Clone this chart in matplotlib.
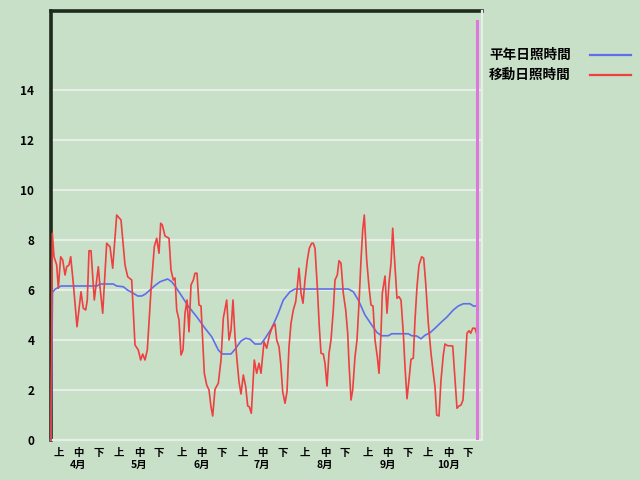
import matplotlib
matplotlib.use("Agg")
import matplotlib.pyplot as plt
from matplotlib.lines import Line2D

plt.rcParams['font.family'] = ['Noto Sans CJK JP', 'DejaVu Sans']

# ---- data (day index from Apr 1, value in hours) ----
normal_series = [
    (0, 0), (0.75, 5.9), (2, 6.03), (3.65, 6.1), (5, 6.16), (23, 6.16), (24.5, 6.24),
    (31.15, 6.24), (32.85, 6.16), (36.15, 6.13), (38.25, 6.0), (41.15, 5.87), (43.35, 5.76),
    (45.35, 5.76), (47.25, 5.84), (49.5, 6.0), (52, 6.18), (54.5, 6.33), (58.35, 6.44),
    (60.35, 6.33), (62, 6.16), (65.35, 5.76), (68.65, 5.35), (72.85, 4.93), (77, 4.47),
    (80.35, 4.13), (83.65, 3.6), (85.65, 3.44), (90, 3.44), (92, 3.63), (95, 3.96),
    (97.35, 4.07), (99.5, 4.03), (102, 3.84), (105, 3.84), (107.25, 4.09), (110.35, 4.47),
    (113.65, 5.07), (116.15, 5.6), (119.5, 5.93), (122, 6.04), (148.65, 6.04), (151.15, 5.93),
    (153.65, 5.6), (157, 5.0), (160.35, 4.6), (163, 4.3), (165.35, 4.17), (168.65, 4.17),
    (170.35, 4.25), (178.65, 4.25), (180.35, 4.17), (182.85, 4.16), (185, 4.05), (187, 4.19),
    (189.5, 4.29), (192, 4.47), (195.35, 4.73), (197.85, 4.91), (201.15, 5.2), (203.65, 5.36),
    (206.15, 5.45), (209.5, 5.45), (211.15, 5.36), (213.25, 5.36),
]

moving_series = [
    (0, 0), (0.65, 8.27), (1.5, 7.33), (2.85, 7.0), (3.65, 6.07), (4.85, 7.33), (5.85, 7.2),
    (7, 6.6), (7.85, 6.93), (9, 7.0), (9.85, 7.33), (11.15, 6.27), (13, 4.53), (15, 5.93),
    (16.15, 5.27), (17.35, 5.2), (18.15, 5.6), (19, 7.57), (20, 7.57), (21.65, 5.6),
    (23.65, 6.93), (24.5, 6.13), (25.85, 5.07), (27.85, 7.87), (29.5, 7.73), (30.85, 6.87),
    (32.85, 9.0), (35, 8.8), (37, 7.0), (38.35, 6.53), (40.35, 6.4), (42, 3.8), (43.65, 3.6),
    (44.85, 3.2), (45.85, 3.44), (47, 3.2), (48.15, 3.6), (50, 6.0), (51.65, 7.73),
    (52.85, 8.07), (54, 7.47), (54.85, 8.67), (55.65, 8.6), (57, 8.16), (59, 8.07), (60, 6.8),
    (61.15, 6.4), (62, 6.48), (62.85, 5.2), (64, 4.8), (65, 3.4), (66, 3.6), (67, 5.07),
    (68, 5.6), (69, 4.33), (70, 6.2), (71.15, 6.4), (72, 6.67), (73, 6.67), (74, 5.4),
    (75, 5.36), (76.65, 2.67), (77.85, 2.2), (79, 2.0), (80, 1.33), (80.85, 0.96), (82, 2.03),
    (83.65, 2.27), (85, 3.2), (86.15, 4.87), (87.85, 5.6), (89, 4.0), (90, 4.4), (91, 5.6),
    (92, 4.13), (93, 3.2), (94, 2.33), (95, 1.84), (96.15, 2.6), (97.35, 2.13), (98.35, 1.36),
    (99.15, 1.33), (100.15, 1.07), (101.65, 3.2), (102.85, 2.67), (104, 3.07), (105, 2.67),
    (106.5, 3.93), (107.85, 3.67), (109.25, 4.2), (110.65, 4.53), (112, 4.64), (112.85, 4.0),
    (114, 3.73), (114.85, 3.07), (115.85, 1.93), (117, 1.47), (118, 1.93), (119, 3.73),
    (120, 4.67), (121.15, 5.2), (122.35, 5.53), (123.15, 6.13), (124, 6.87), (125, 5.87),
    (126, 5.47), (127, 6.4), (128.15, 7.2), (129.15, 7.67), (130.35, 7.87), (131.15, 7.87),
    (132, 7.67), (133.15, 6.13), (134.15, 4.53), (135, 3.47), (136.15, 3.44), (137, 3.07),
    (138, 2.16), (139, 3.47), (140, 4.0), (141.15, 5.2), (142, 6.4), (143.15, 6.6),
    (144, 7.17), (145, 7.07), (146.15, 5.87), (147.35, 5.2), (148.35, 4.27), (149, 3.07),
    (150, 1.6), (150.85, 2.0), (152, 3.33), (153, 4.0), (154, 5.47), (155, 7.2), (155.85, 8.4),
    (156.65, 9.0), (157.85, 7.2), (159, 6.13), (160, 5.4), (161, 5.36), (162, 4.0),
    (163.15, 3.33), (164, 2.67), (165, 4.27), (165.65, 5.87), (167, 6.56), (168, 5.07),
    (169, 6.27), (170, 7.07), (170.85, 8.47), (172, 6.93), (173, 5.67), (174, 5.73), (175, 5.6),
    (176.15, 4.27), (177, 2.93), (178, 1.65), (179.15, 2.53), (180, 3.23), (181.15, 3.27),
    (182, 4.8), (183, 6.13), (184, 7.0), (185.35, 7.33), (186.35, 7.27), (187.35, 6.27),
    (188.65, 4.67), (190, 3.47), (191.15, 2.67), (192, 2.13), (192.85, 1.0), (194, 0.96),
    (195, 2.4), (196.15, 3.4), (197, 3.84), (198.35, 3.77), (199.5, 3.77), (200.85, 3.76),
    (202, 2.4), (203, 1.27), (204, 1.36), (205, 1.4), (206, 1.6), (207, 2.93), (208, 4.27),
    (209, 4.37), (209.85, 4.27), (210.85, 4.47), (212, 4.47), (212.65, 4.29),
]

today_day = 213
today_top = 16.76

month_labels = ['4月', '5月', '6月', '7月', '8月', '9月', '10月']
month_starts = [0, 30, 61, 91, 122, 153, 183]
dekad_labels = ['上', '中', '下']
dekad_offsets = [3.7, 13.7, 23.7]
y_ticks = [0, 2, 4, 6, 8, 10, 12, 14]

legend_names = ['平年日照時間', '移動日照時間']

# ---- style ----
bg = '#C8DFC8'
blue = '#5F6EEA'
red = '#EE4040'
magenta = '#DC78DC'
grid_c = '#E6EFE6'

fig = plt.figure(figsize=(6.4, 4.8), dpi=100, facecolor=bg)
ax = fig.add_axes([51/640, 1 - 440/480, (482 - 51)/640, (440 - 11)/480])
ax.set_facecolor(bg)
ax.set_xlim(0, 215.5)
ax.set_ylim(0, 17.16)

for v in y_ticks:
    ax.axhline(v, color=grid_c, lw=1.6, zorder=1)

for s in ['left', 'top']:
    ax.spines[s].set_color('#1E2A1E')
    ax.spines[s].set_linewidth(2.6)
    ax.spines[s].set_zorder(2)
ax.spines['right'].set_color(grid_c)
ax.spines['right'].set_linewidth(1.6)
ax.spines['bottom'].set_color(grid_c)
ax.spines['bottom'].set_linewidth(1.6)

nd, nv = zip(*normal_series)
md, mv = zip(*moving_series)
ax.plot(nd, nv, color=blue, lw=1.2, zorder=3, clip_on=False)
ax.plot(md, mv, color=red, lw=1.2, zorder=4, clip_on=False)
ax.plot([today_day, today_day], [0, today_top], color=magenta, lw=2.2, zorder=5)

ax.set_yticks(y_ticks)
ax.set_yticklabels([str(v) for v in y_ticks], fontsize=8.5, fontweight='bold')
ax.tick_params(axis='y', length=0, pad=12)

xt, xl = [], []
for ms, mname in zip(month_starts, month_labels):
    for off, dl in zip(dekad_offsets, dekad_labels):
        xt.append(ms * 1.01 + off)
        xl.append(dl + '\n' + mname if dl == '中' else dl)
ax.set_xticks(xt)
ax.set_xticklabels(xl, fontsize=7.5, fontweight='bold')
ax.tick_params(axis='x', length=0, pad=6)
for t in ax.get_xticklabels():
    t.set_linespacing(1.15)

# legend
for i, (name, col) in enumerate(zip(legend_names, [blue, red])):
    yy = 1 - (55 + 20 * i) / 480
    fig.text(489/640, yy, name, fontsize=9.8, fontweight='bold', va='center', ha='left')
    fig.add_artist(Line2D([590/640, 631/640], [yy, yy], color=col, lw=1.6))

fig.savefig('out.png', dpi=100, facecolor=bg)
